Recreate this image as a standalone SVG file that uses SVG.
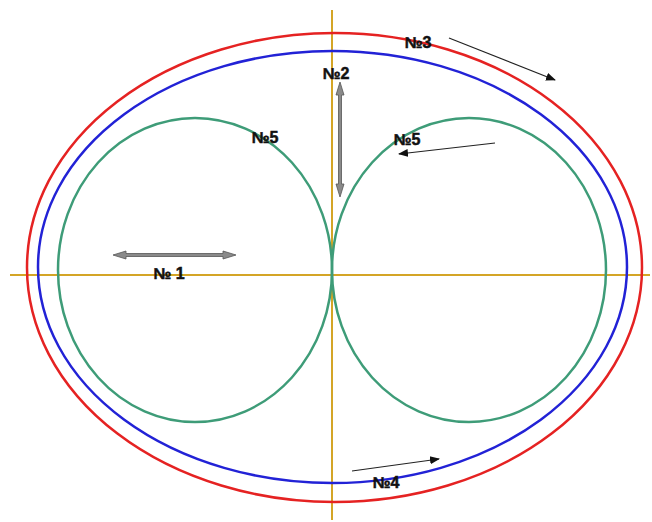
<svg xmlns="http://www.w3.org/2000/svg" width="652" height="522" viewBox="0 0 652 522">
<defs>
<marker id="ah" viewBox="0 0 10 10" refX="9" refY="5" markerWidth="10" markerHeight="10" markerUnits="userSpaceOnUse" orient="auto"><path d="M0,1 L10,5 L0,9 z" fill="#111"/></marker>
<style>
.lbl{font-family:"Liberation Sans Narrow","Liberation Sans",Arial,sans-serif;font-weight:bold;font-size:16px;fill:#111;stroke:#111;stroke-width:0.5}
.ax{stroke:#d4a526;stroke-width:2;fill:none}
.arr{stroke:#222;stroke-width:1.2;fill:none;marker-end:url(#ah)}
.dbl{fill:#8a8a8a;stroke:#555;stroke-width:0.8}
</style>
</defs>
<rect width="652" height="522" fill="#fff"/>
<g id="axes">
<line class="ax" x1="10" y1="275" x2="650" y2="275"/>
<line class="ax" x1="332" y1="10" x2="332" y2="520"/>
</g>
<g id="curve3"><ellipse cx="334.5" cy="267.5" rx="307.5" ry="234.5" fill="none" stroke="#e52222" stroke-width="2.5"/></g>
<g id="curve4"><ellipse cx="332.5" cy="267" rx="294.5" ry="216" fill="none" stroke="#2222d6" stroke-width="2.5"/></g>
<g id="curve5l"><ellipse cx="195" cy="270" rx="137" ry="152" fill="none" stroke="#3e9c78" stroke-width="2.5"/></g>
<g id="curve5r"><ellipse cx="469" cy="270" rx="137" ry="152" fill="none" stroke="#3e9c78" stroke-width="2.5"/></g>
<g id="connectors">
<line class="arr" x1="449" y1="38" x2="555" y2="80"/>
<line class="arr" x1="495" y1="143" x2="399" y2="154"/>
<line class="arr" x1="352" y1="471" x2="439" y2="459"/>
<polygon class="dbl" points="340,82 344,95 341.5,95 341.5,184 344,184 340,197 336,184 338.5,184 338.5,95 336,95"/>
<polygon class="dbl" points="113,255 126,251 126,253.5 223,253.5 223,251 236,255 223,259 223,256.5 126,256.5 126,259"/>
</g>
<g id="labels">
<text class="lbl" x="418" y="48" text-anchor="middle">№3</text>
<text class="lbl" x="336" y="79" text-anchor="middle">№2</text>
<text class="lbl" x="407" y="145" text-anchor="middle">№5</text>
<text class="lbl" x="265" y="143" text-anchor="middle">№5</text>
<text class="lbl" x="169" y="279" text-anchor="middle">№ 1</text>
<text class="lbl" x="386" y="488" text-anchor="middle">№4</text>
</g>
</svg>
